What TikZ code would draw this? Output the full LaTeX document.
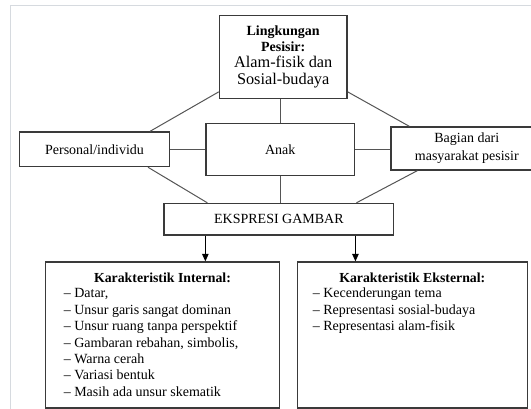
\documentclass[tikz,border=0pt]{standalone}
\usepackage{fontspec}
\setmainfont{Liberation Serif}
\usetikzlibrary{arrows.meta}
\definecolor{boxgray}{HTML}{3A3A3A}
\definecolor{linkgray}{HTML}{555555}
\definecolor{framegray}{HTML}{D6DADF}

\begin{document}
\begin{tikzpicture}[x=1pt, y=-1pt,
        box/.style={rectangle, draw=boxgray, line width=1.3pt, inner sep=0pt, align=center, font=\fontsize{14}{16.4}\selectfont},
        link/.style={draw=linkgray, line width=1pt},
        arrow/.style={draw=black, line width=1pt, -{Triangle[width=6.5pt, length=7.5pt]}},
        listtitle/.style={inner sep=0pt, anchor=base, font=\fontsize{13.8}{16.4}\selectfont\bfseries},
        listitems/.style={inner sep=0pt, align=left, anchor=base west, font=\fontsize{14}{16.4}\selectfont}
      ]
      \clip (0,0) rectangle (531,409);
      \draw[framegray, line width=1pt] (10.5,409) |- (531,6);

      \node[box, minimum width=127.6pt, minimum height=83pt] (env) at (283.2,56.7)
        {\textbf{Lingkungan}\\ \textbf{Pesisir:}\\ \fontsize{16.3}{16.6}\selectfont Alam-fisik dan\\ \fontsize{16.3}{16.6}\selectfont Sosial-budaya};
      \node[box, minimum width=149.7pt, minimum height=34.6pt] (personal) at (94.5,149.3) {Personal/individu};
      \node[box, minimum width=148.6pt, minimum height=52.1pt] (anak) at (280.2,149.3) {Anak};
      \node[box, minimum width=151.6pt, minimum height=43pt] (bagian) at (466.8,148.5) {Bagian dari\\[1.6pt] masyarakat pesisir};
      \node[box, minimum width=229.8pt, minimum height=31.5pt] (ekspresi) at (278.9,219.2) {EKSPRESI GAMBAR};
      \node[box, minimum width=233.7pt, minimum height=146pt] (internal) at (162.5,335) {};
      \node[box, minimum width=230pt, minimum height=146pt] (eksternal) at (412.3,335) {};

      % lines round the child
      \draw[link] (anak.north) -- (anak.north |- env.south);
      \draw[link] (personal.east) -- (personal.east -| anak.west);
      \draw[link] (anak.east) -- (anak.east -| bagian.west);
      \draw[link] (anak.south) -- (anak.south |- ekspresi.north);
      \draw[link] ([yshift=7pt]env.south west) -- ([xshift=-20pt]personal.north east);
      \draw[link] ([yshift=7pt]env.south east) -- ([xshift=19pt]bagian.north west);
      \draw[link] ([xshift=-22pt]personal.south east) -- ([xshift=44pt]ekspresi.north west);
      \draw[link] ([xshift=27pt]bagian.south west) -- ([xshift=-38pt]ekspresi.north east);

      % arrows down
      \coordinate (arrL) at ([xshift=42pt]ekspresi.south west);
      \coordinate (arrR) at ([xshift=-39pt]ekspresi.south east);
      \draw[arrow] (arrL) -- (arrL |- internal.north);
      \draw[arrow] (arrR) -- (arrR |- eksternal.north);

      % lists, placed by the baseline of their last line
      \node[listtitle] (inttitle) at ([yshift=-21pt]internal.north) {Karakteristik Internal:};
      \node[listitems] (intlist) at ([xshift=18.6pt, yshift=-134.9pt]internal.north west)
        {\textendash\ Datar,\\
         \textendash\ Unsur garis sangat dominan\\
         \textendash\ Unsur ruang tanpa perspektif\\
         \textendash\ Gambaran rebahan, simbolis,\\
         \textendash\ Warna cerah\\
         \textendash\ Variasi bentuk\\
         \textendash\ Masih ada unsur skematik};
      \node[listtitle] (exttitle) at ([yshift=-21pt]eksternal.north) {Karakteristik Eksternal:};
      \node[listitems] (extlist) at ([xshift=15.9pt, yshift=-69.3pt]eksternal.north west)
        {\textendash\ Kecenderungan tema\\
         \textendash\ Representasi sosial-budaya\\
         \textendash\ Representasi alam-fisik};
\end{tikzpicture}
\end{document}
